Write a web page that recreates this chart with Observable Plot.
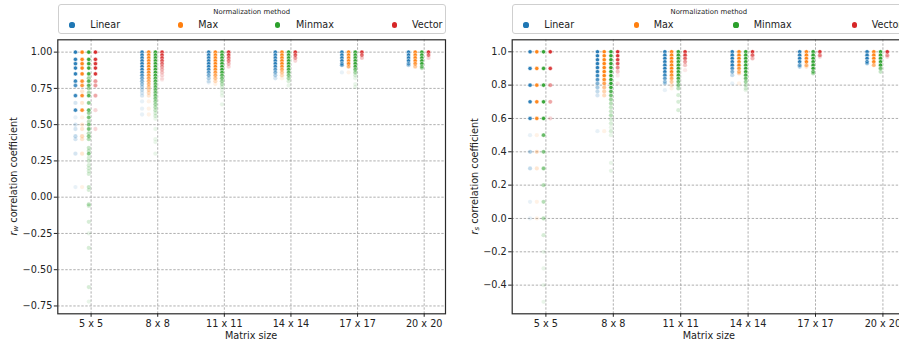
<!DOCTYPE html>
<html><head><meta charset="utf-8">
<script src="https://cdn.jsdelivr.net/npm/d3@7"></script>
<script src="https://cdn.jsdelivr.net/npm/@observablehq/plot@0.6"></script>
<style>
html,body{margin:0;padding:0;background:#fff;overflow:hidden;}
#root{position:relative;width:899px;height:345px;overflow:hidden;font-family:"DejaVu Sans",sans-serif;color:#222;}
.legend{position:absolute;top:4px;height:29.5px;border:0.8px solid #cfcfcf;border-radius:3px;background:#fff;box-sizing:border-box;z-index:2;}
.legend .title{position:absolute;top:2.5px;left:0;width:100%;text-align:center;font-size:6.9px;line-height:9px;}
.legend .txt{position:absolute;top:14px;font-size:9.6px;line-height:12px;white-space:nowrap;}
.legend .dot{position:absolute;top:17.4px;width:5.2px;height:5.2px;border-radius:50%;}
.panel{position:absolute;top:36px;}
</style></head>
<body><div id="root"></div>
<script>
// ---------------- data ----------------
const sizes = ["5 x 5", "8 x 8", "11 x 11", "14 x 14", "17 x 17", "20 x 20"];
const methods = ["Linear", "Max", "Minmax", "Vector"];
const colors = ["#1f77b4", "#ff7f0e", "#2ca02c", "#d62728"];
const legendTitle = "Normalization method";
const xTitle = "Matrix size";
const rwTicks = [-0.75, -0.5, -0.25, 0, 0.25, 0.5, 0.75, 1.0];
const rsTicks = [-0.4, -0.2, 0, 0.2, 0.4, 0.6, 0.8, 1.0];

// r_w panel — one list per matrix size, entries [value, number of overlapping observations]
const rwLinear = [
  [[1.00,30],[0.95,25],[0.92,25],[0.89,25],[0.85,25],[0.80,20],[0.77,15],[0.70,20],[0.65,2],[0.60,20],[0.55,1],[0.50,2],[0.47,2],[0.42,3],[0.40,2],[0.30,2],[0.07,1]],
  [[1.00,30],[0.98,30],[0.96,30],[0.94,30],[0.92,30],[0.90,30],[0.88,25],[0.86,20],[0.84,15],[0.82,10],[0.80,8],[0.78,6],[0.76,4],[0.74,3],[0.72,2],[0.70,2],[0.66,1],[0.61,1],[0.57,1]],
  [[1.00,30],[0.98,30],[0.96,30],[0.94,30],[0.92,30],[0.90,30],[0.88,20],[0.86,12],[0.84,8],[0.82,4],[0.80,2],[0.79,1]],
  [[1.00,30],[0.98,30],[0.96,30],[0.94,30],[0.92,30],[0.90,20],[0.88,12],[0.86,8],[0.84,4],[0.82,2]],
  [[1.00,30],[0.98,30],[0.96,30],[0.94,30],[0.92,20],[0.91,8],[0.86,1]],
  [[1.00,30],[0.98,30],[0.96,30],[0.94,30],[0.92,12],[0.91,4]]
];
const rwMax = [
  [[1.00,30],[0.95,25],[0.92,25],[0.89,25],[0.85,25],[0.80,20],[0.77,15],[0.73,2],[0.70,20],[0.65,2],[0.60,20],[0.55,1],[0.50,2],[0.47,2],[0.42,3],[0.40,2],[0.30,2],[0.07,1]],
  [[1.00,30],[0.98,30],[0.96,30],[0.94,30],[0.92,30],[0.90,30],[0.88,30],[0.86,20],[0.84,15],[0.82,12],[0.80,10],[0.78,8],[0.76,6],[0.74,4],[0.72,3],[0.70,2],[0.66,1],[0.61,1],[0.57,1]],
  [[1.00,30],[0.98,30],[0.96,30],[0.94,30],[0.92,30],[0.90,30],[0.88,20],[0.86,14],[0.84,10],[0.82,6],[0.80,3],[0.78,1]],
  [[1.00,30],[0.98,30],[0.96,30],[0.94,30],[0.92,30],[0.90,18],[0.88,10],[0.86,5],[0.84,3],[0.82,1]],
  [[1.00,30],[0.98,30],[0.96,30],[0.94,30],[0.92,25],[0.90,8],[0.86,1]],
  [[1.00,30],[0.98,30],[0.96,30],[0.94,30],[0.92,15],[0.90,5]]
];
const rwMinmax = [
  [[1.00,30],[0.95,25],[0.92,25],[0.89,25],[0.85,20],[0.82,6],[0.80,15],[0.77,15],[0.75,5],[0.72,5],[0.70,15],[0.65,8],[0.60,15],[0.58,6],[0.55,10],[0.52,4],[0.50,8],[0.47,10],[0.44,4],[0.42,8],[0.40,4],[0.34,3],[0.32,3],[0.30,8],[0.27,2],[0.25,2],[0.22,2],[0.20,2],[0.18,2],[0.16,2],[0.07,3],[0.05,2],[-0.05,4],[-0.06,2],[-0.17,2],[-0.25,1],[-0.35,2],[-0.62,2],[-0.72,1]],
  [[1.00,30],[0.98,30],[0.96,30],[0.94,30],[0.92,30],[0.90,30],[0.88,30],[0.86,30],[0.84,25],[0.82,20],[0.80,20],[0.78,15],[0.76,15],[0.74,12],[0.72,10],[0.70,10],[0.68,8],[0.66,6],[0.64,5],[0.62,4],[0.60,3],[0.58,2],[0.56,2],[0.54,1],[0.47,1],[0.40,1],[0.38,1],[0.30,1]],
  [[1.00,30],[0.98,30],[0.96,30],[0.94,30],[0.92,30],[0.90,30],[0.88,30],[0.86,20],[0.84,14],[0.82,10],[0.80,6],[0.78,4],[0.76,2],[0.74,1],[0.72,1],[0.70,1],[0.64,1]],
  [[1.00,30],[0.98,30],[0.96,30],[0.94,30],[0.92,30],[0.90,25],[0.88,20],[0.86,12],[0.84,8],[0.82,5],[0.80,2],[0.77,1]],
  [[1.00,30],[0.98,30],[0.96,30],[0.94,30],[0.92,30],[0.90,20],[0.88,10],[0.86,5],[0.84,2],[0.82,1],[0.78,1],[0.76,1]],
  [[1.00,30],[0.98,30],[0.96,30],[0.94,30],[0.92,30],[0.90,10],[0.89,4]]
];
const rwVector = [
  [[1.00,30],[0.95,25],[0.92,25],[0.89,25],[0.85,25],[0.80,6],[0.77,6],[0.70,5],[0.60,2],[0.47,2]],
  [[1.00,30],[0.98,25],[0.96,20],[0.94,15],[0.92,10],[0.90,6],[0.88,4],[0.86,3],[0.84,2],[0.82,1],[0.81,1]],
  [[1.00,30],[0.98,20],[0.96,12],[0.94,8],[0.92,4],[0.90,2]],
  [[1.00,30],[0.98,15],[0.96,6],[0.94,2]],
  [[1.00,30],[0.98,12],[0.96,3]],
  [[1.00,30],[0.98,10],[0.96,2]]
];

// r_s panel
const rsLinear = [
  [[1.0,30],[0.9,25],[0.8,25],[0.7,25],[0.6,20],[0.5,1],[0.4,4],[0.3,3],[0.1,1],[0.0,1]],
  [[1.0,30],[0.976,30],[0.952,30],[0.929,30],[0.905,30],[0.881,25],[0.857,20],[0.833,15],[0.810,8],[0.786,5],[0.762,3],[0.738,2],[0.524,1]],
  [[1.0,30],[0.98,30],[0.96,30],[0.94,30],[0.92,30],[0.90,30],[0.88,30],[0.86,20],[0.84,12],[0.82,6],[0.81,3],[0.77,1]],
  [[1.0,30],[0.98,30],[0.96,30],[0.94,30],[0.92,30],[0.90,15],[0.88,8],[0.86,3],[0.81,1]],
  [[1.0,30],[0.98,30],[0.96,30],[0.94,30],[0.92,12],[0.91,4]],
  [[1.0,30],[0.98,30],[0.96,30],[0.94,30],[0.93,6]]
];
const rsMax = [
  [[1.0,30],[0.9,25],[0.8,22],[0.7,25],[0.6,20],[0.5,1],[0.4,3],[0.3,2],[0.1,1],[0.0,1]],
  [[1.0,30],[0.976,30],[0.952,30],[0.929,30],[0.905,30],[0.881,30],[0.857,30],[0.833,20],[0.810,12],[0.786,6],[0.762,4],[0.738,3],[0.524,1]],
  [[1.0,30],[0.98,30],[0.96,30],[0.94,30],[0.92,30],[0.90,30],[0.88,30],[0.86,18],[0.84,10],[0.82,5],[0.80,2],[0.78,1]],
  [[1.0,30],[0.98,30],[0.96,30],[0.94,30],[0.92,30],[0.90,15],[0.88,8],[0.87,3],[0.81,1]],
  [[1.0,30],[0.98,30],[0.96,30],[0.94,30],[0.92,8],[0.91,2]],
  [[1.0,30],[0.98,30],[0.96,30],[0.94,30],[0.92,8]]
];
const rsMinmax = [
  [[1.0,30],[0.9,25],[0.8,25],[0.7,25],[0.6,25],[0.5,12],[0.4,8],[0.3,8],[0.2,4],[0.1,4],[0.0,4],[-0.1,2],[-0.2,1],[-0.3,1],[-0.4,1],[-0.5,1]],
  [[1.0,30],[0.976,30],[0.952,30],[0.929,30],[0.905,30],[0.881,30],[0.857,30],[0.833,30],[0.810,30],[0.786,25],[0.762,15],[0.738,10],[0.714,6],[0.690,4],[0.667,3],[0.643,3],[0.619,4],[0.595,2],[0.571,2],[0.548,1],[0.524,2],[0.500,1],[0.333,1],[0.286,1]],
  [[1.0,30],[0.98,30],[0.96,30],[0.94,30],[0.92,30],[0.90,30],[0.88,30],[0.86,30],[0.84,20],[0.82,12],[0.80,8],[0.78,4],[0.74,2],[0.70,2],[0.65,2]],
  [[1.0,30],[0.98,30],[0.96,30],[0.94,30],[0.92,30],[0.90,30],[0.88,30],[0.86,20],[0.84,12],[0.82,6],[0.80,3],[0.78,2],[0.77,1]],
  [[1.0,30],[0.98,30],[0.96,30],[0.94,30],[0.92,30],[0.90,30],[0.88,12],[0.87,4]],
  [[1.0,30],[0.98,30],[0.96,30],[0.94,30],[0.92,30],[0.90,10],[0.88,3]]
];
const rsVector = [
  [[1.0,30],[0.9,20],[0.8,6],[0.7,5],[0.6,2]],
  [[1.0,30],[0.976,25],[0.952,20],[0.929,15],[0.905,8],[0.881,3],[0.857,1],[0.810,1]],
  [[1.0,30],[0.98,20],[0.96,12],[0.94,6],[0.92,3],[0.89,1]],
  [[1.0,30],[0.98,12],[0.96,4]],
  [[1.0,30],[0.98,8],[0.97,2]],
  [[1.0,30],[0.98,6],[0.97,2]]
];

// ---------------- drawing ----------------
const root = document.getElementById("root");
const dodge = [-0.235, -0.135, -0.035, 0.065];
const alpha = 0.1;

function toRows(seriesList) {
  const out = [];
  seriesList.forEach((ser, mi) => ser.forEach((pts, si) => pts.forEach(([v, n]) =>
    out.push({size: si, method: methods[mi], value: v, n}))));
  return out;
}

function legend(left, width, dotX, txtX) {
  const box = document.createElement("div");
  box.className = "legend";
  box.style.left = left + "px";
  box.style.width = width + "px";
  const t = document.createElement("div");
  t.className = "title"; t.textContent = legendTitle;
  box.appendChild(t);
  methods.forEach((m, i) => {
    const d = document.createElement("div");
    d.className = "dot"; d.style.left = (dotX[i] - 2.6) + "px"; d.style.background = colors[i];
    box.appendChild(d);
    const s = document.createElement("div");
    s.className = "txt"; s.style.left = txtX[i] + "px"; s.textContent = m;
    box.appendChild(s);
  });
  root.appendChild(box);
}

function panel(opts) {
  const rows = toRows(opts.series);
  const op = d => 1 - Math.pow(1 - alpha, d.n);
  const svg = Plot.plot({
    width: opts.width, height: 309,
    marginTop: 3.3, marginBottom: 31.7, marginLeft: opts.ml, marginRight: opts.mr,
    style: {fontFamily: "DejaVu Sans", fontSize: "9.7px", color: "#222", background: "transparent", overflow: "visible"},
    x: {type: "linear", domain: opts.xdom},
    y: {domain: opts.ydom},
    color: {domain: methods, range: colors},
    marks: [
      Plot.gridX([0, 1, 2, 3, 4, 5], {stroke: "#9a9a9a", strokeOpacity: 1, strokeWidth: 0.8, strokeDasharray: "2.4,1.6"}),
      Plot.gridY(opts.ticks, {stroke: "#9a9a9a", strokeOpacity: 1, strokeWidth: 0.8, strokeDasharray: "2.4,1.6"}),
      Plot.dot(rows, {
        x: d => d.size + dodge[methods.indexOf(d.method)],
        y: "value", r: 2.15,
        fill: "method", fillOpacity: op,
        stroke: "white", strokeWidth: 0.6, strokeOpacity: op
      }),
      Plot.frame({stroke: "#2a2a2a", strokeWidth: 1.2}),
      Plot.axisX([0, 1, 2, 3, 4, 5], {tickFormat: i => sizes[i], tickSize: 3.5, tickPadding: 3, label: null}),
      Plot.axisY(opts.ticks, {tickFormat: opts.fmt, tickSize: 3.5, tickPadding: 2, label: null})
    ]
  });
  svg.classList.add("panel");
  svg.style.left = opts.left + "px";
  const s = d3.select(svg);
  const fx0 = opts.ml, fx1 = opts.width - opts.mr;
  s.append("text")
    .attr("x", (fx0 + fx1) / 2).attr("y", 299.5)
    .attr("text-anchor", "middle").attr("dominant-baseline", "middle")
    .attr("fill", "#222").style("font-size", "9.7px")
    .text(xTitle);
  const yl = s.append("text")
    .attr("transform", `translate(${opts.ylx},140.3) rotate(-90)`)
    .attr("text-anchor", "middle").attr("dominant-baseline", "middle")
    .attr("fill", "#222").style("font-size", "9.7px");
  yl.append("tspan").attr("font-style", "italic").text("r");
  yl.append("tspan").attr("font-style", "italic").attr("dy", 2.2).style("font-size", "7px").text(opts.sub);
  yl.append("tspan").attr("dy", -2.2).text(" correlation coefficient");
  root.appendChild(svg);
}

panel({series: [rwLinear, rwMax, rwMinmax, rwVector], left: 0, width: 450, ml: 57.3, mr: 5,
       xdom: [-0.5, 5.32], ydom: [-0.804, 1.085], ticks: rwTicks, fmt: d3.format(".2f"), sub: "w", ylx: 14});
panel({series: [rsLinear, rsMax, rsMinmax, rsVector], left: 450, width: 456, ml: 61.7, mr: 0,
       xdom: [-0.5, 5.35], ydom: [-0.572, 1.072], ticks: rsTicks, fmt: d3.format(".1f"), sub: "s", ylx: 25});

legend(57.7, 388, [13.3, 121.6, 219, 335.6], [31.6, 139.6, 237.3, 353.3]);
legend(511.7, 394.3, [13.3, 124, 223.3, 341.6], [31.6, 141, 241, 359]);
</script>
</body></html>
